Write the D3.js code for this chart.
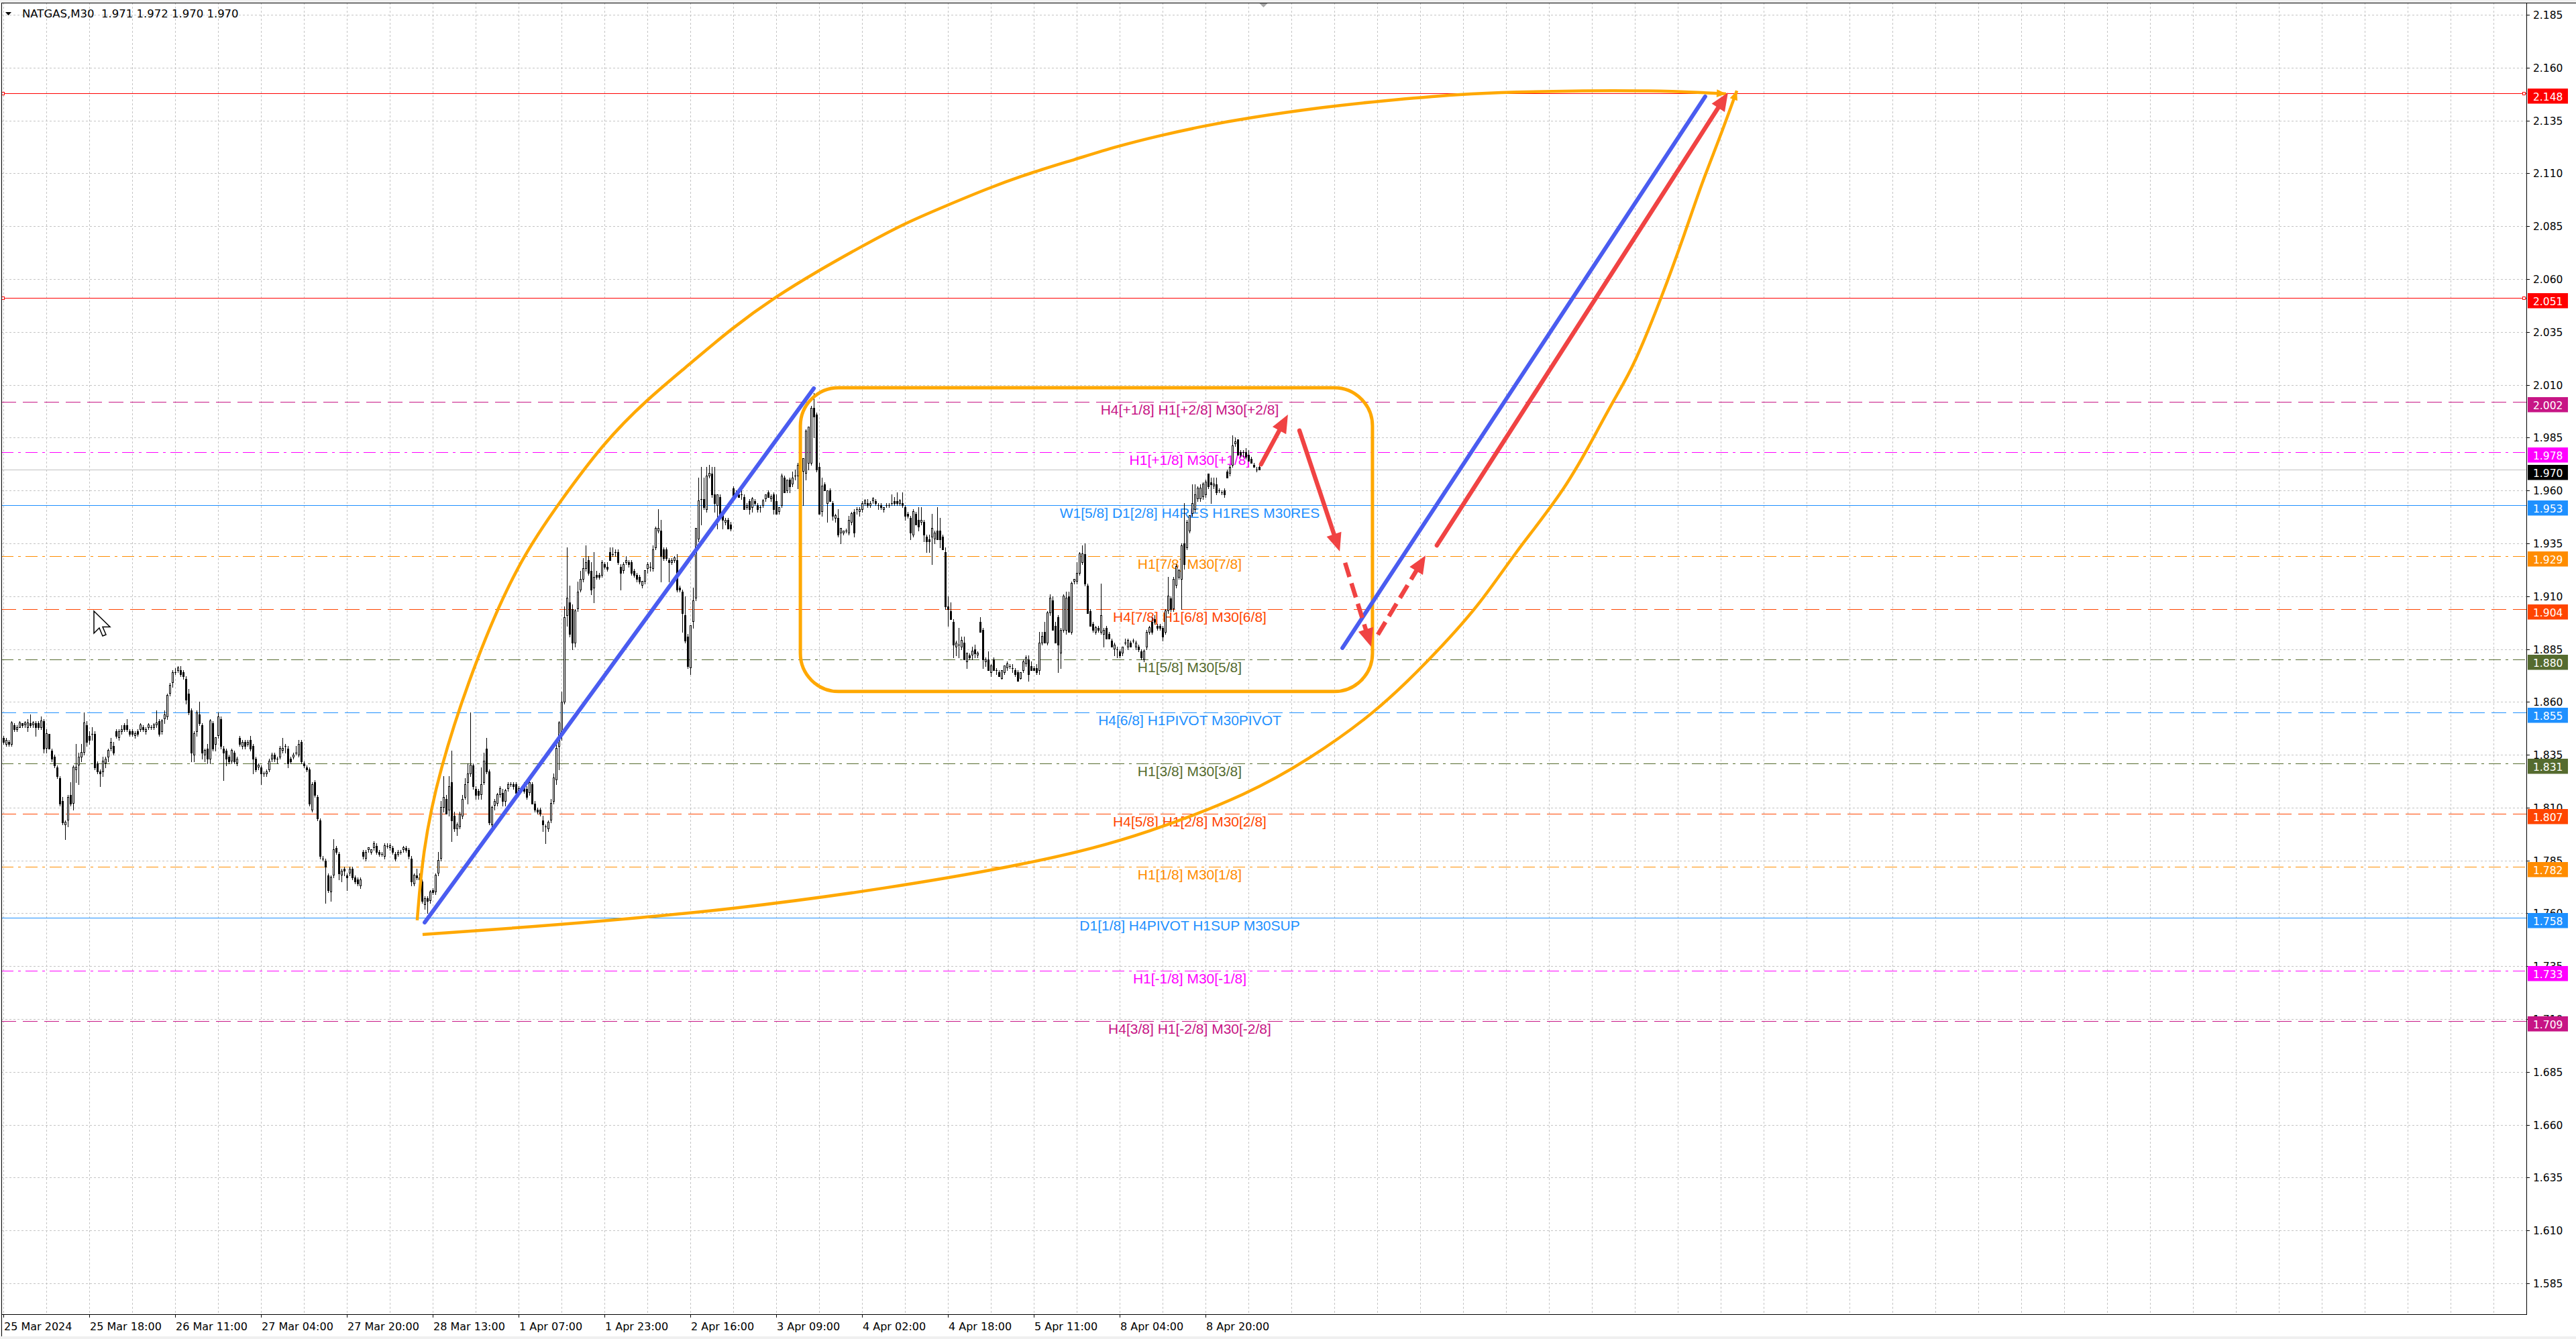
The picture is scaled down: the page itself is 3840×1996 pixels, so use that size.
<!DOCTYPE html>
<html><head><meta charset="utf-8">
<script src="https://cdn.jsdelivr.net/npm/d3@7"></script>
<style>html,body{margin:0;padding:0;background:#f0f0f0;overflow:hidden}svg{display:block}</style>
</head><body>
<svg id="chart" width="3840" height="1996"></svg>
<script>
// ---------------- DATA ----------------
const symbol = "NATGAS", timeframe = "M30";
const opens = [
1.843,1.840,1.841,1.840,1.849,1.847,1.848,1.850,1.849,1.848,
1.850,1.849,1.850,1.850,1.848,1.851,1.838,1.845,1.837,1.834,
1.829,1.824,1.813,1.802,1.804,1.816,1.812,1.828,1.830,1.834,
1.836,1.849,1.844,1.845,1.845,1.831,1.827,1.827,1.831,1.834,
1.838,1.839,1.846,1.843,1.846,1.849,1.849,1.846,1.846,1.844,
1.846,1.847,1.848,1.846,1.848,1.848,1.848,1.849,1.851,1.846,
1.852,1.853,1.864,1.869,1.874,1.875,1.875,1.874,1.871,1.864,
1.856,1.835,1.846,1.854,1.849,1.835,1.838,1.833,1.850,1.840,
1.844,1.852,1.838,1.837,1.834,1.832,1.836,1.831,1.843,1.839,
1.841,1.840,1.842,1.839,1.833,1.829,1.829,1.826,1.826,1.828,
1.833,1.835,1.833,1.834,1.837,1.839,1.838,1.833,1.834,1.836,
1.835,1.841,1.831,1.829,1.828,1.809,1.822,1.815,1.804,1.786,
1.785,1.778,1.770,1.778,1.791,1.788,1.778,1.781,1.778,1.779,
1.781,1.777,1.776,1.773,1.789,1.786,1.790,1.789,1.791,1.792,
1.789,1.788,1.787,1.792,1.791,1.791,1.788,1.788,1.789,1.790,
1.791,1.790,1.786,1.774,1.778,1.777,1.775,1.764,1.767,1.766,
1.771,1.770,1.779,1.786,1.810,1.814,1.809,1.822,1.806,1.800,
1.801,1.806,1.815,1.822,1.826,1.830,1.819,1.818,1.816,1.822,
1.838,1.827,1.802,1.811,1.812,1.816,1.817,1.813,1.819,1.821,
1.821,1.821,1.818,1.819,1.821,1.819,1.817,1.821,1.812,1.809,
1.809,1.804,1.801,1.800,1.804,1.813,1.823,1.839,1.844,1.860,
1.901,1.907,1.904,1.888,1.904,1.913,1.918,1.923,1.927,1.922,
1.914,1.920,1.920,1.920,1.925,1.924,1.931,1.930,1.931,1.931,
1.924,1.922,1.926,1.926,1.926,1.922,1.920,1.919,1.915,1.917,
1.923,1.924,1.923,1.933,1.941,1.941,1.932,1.932,1.927,1.926,
1.927,1.927,1.914,1.912,1.901,1.891,1.876,1.898,1.909,1.937,
1.956,1.956,1.951,1.967,1.968,1.958,1.953,1.957,1.949,1.945,
1.946,1.944,1.961,1.959,1.958,1.958,1.957,1.952,1.955,1.952,
1.955,1.953,1.952,1.953,1.956,1.959,1.956,1.958,1.955,1.950,
1.953,1.966,1.960,1.965,1.963,1.967,1.967,1.972,1.969,1.968,
1.973,1.973,1.999,1.996,1.971,1.950,1.963,1.954,1.960,1.954,
1.947,1.947,1.940,1.940,1.941,1.940,1.945,1.950,1.951,1.950,
1.951,1.954,1.954,1.953,1.955,1.955,1.953,1.953,1.951,1.953,
1.953,1.954,1.955,1.955,1.954,1.954,1.952,1.949,1.947,1.939,
1.949,1.946,1.945,1.945,1.938,1.937,1.938,1.937,1.941,1.941,
1.938,1.931,1.905,1.903,1.898,1.886,1.887,1.886,1.888,1.879,
1.882,1.882,1.885,1.882,1.898,1.894,1.879,1.880,1.874,1.880,
1.875,1.874,1.871,1.874,1.876,1.877,1.876,1.875,1.874,1.871,
1.875,1.878,1.880,1.877,1.876,1.876,1.875,1.888,1.893,1.888,
1.902,1.908,1.896,1.900,1.883,1.894,1.894,1.910,1.893,1.917,
1.917,1.921,1.926,1.930,1.915,1.903,1.897,1.893,1.895,1.893,
1.892,1.895,1.892,1.889,1.885,1.885,1.884,1.883,1.888,1.886,
1.888,1.889,1.886,1.886,1.884,1.880,1.886,1.893,1.898,1.899,
1.896,1.896,1.895,1.893,1.903,1.909,1.904,1.915,1.919,1.918,
1.935,1.933,1.941,1.949,1.951,1.956,1.956,1.957,1.958,1.968,
1.964,1.962,1.963,1.960,1.959,1.960,1.969,1.968,1.972,1.982,
1.984,1.978,1.978,1.978,1.977,1.975,1.972,1.970,1.971];
const highs = [
1.844,1.843,1.842,1.851,1.850,1.849,1.851,1.850,1.851,1.852,
1.854,1.851,1.851,1.851,1.853,1.852,1.847,1.845,1.838,1.835,
1.830,1.825,1.815,1.804,1.816,1.822,1.830,1.840,1.836,1.840,
1.855,1.851,1.846,1.848,1.846,1.832,1.828,1.834,1.834,1.838,
1.843,1.841,1.847,1.847,1.849,1.850,1.852,1.847,1.847,1.846,
1.847,1.850,1.849,1.848,1.850,1.849,1.850,1.856,1.852,1.852,
1.856,1.864,1.869,1.875,1.876,1.877,1.877,1.875,1.872,1.866,
1.857,1.846,1.856,1.860,1.850,1.838,1.840,1.852,1.851,1.843,
1.855,1.853,1.839,1.838,1.835,1.838,1.837,1.834,1.844,1.842,
1.842,1.842,1.844,1.840,1.834,1.831,1.830,1.827,1.828,1.833,
1.836,1.836,1.834,1.839,1.843,1.840,1.839,1.834,1.836,1.839,
1.842,1.842,1.832,1.830,1.829,1.822,1.823,1.816,1.805,1.787,
1.786,1.779,1.778,1.795,1.792,1.789,1.781,1.782,1.779,1.782,
1.782,1.778,1.777,1.777,1.790,1.790,1.791,1.790,1.794,1.793,
1.790,1.789,1.793,1.793,1.793,1.792,1.789,1.790,1.790,1.792,
1.792,1.791,1.787,1.779,1.781,1.779,1.776,1.768,1.768,1.771,
1.772,1.779,1.789,1.813,1.825,1.816,1.825,1.837,1.808,1.803,
1.808,1.816,1.824,1.831,1.855,1.831,1.820,1.819,1.829,1.836,
1.843,1.828,1.811,1.814,1.817,1.820,1.819,1.819,1.822,1.822,
1.822,1.822,1.820,1.820,1.822,1.820,1.823,1.822,1.813,1.810,
1.810,1.806,1.802,1.804,1.814,1.826,1.840,1.851,1.865,1.905,
1.933,1.915,1.906,1.904,1.917,1.922,1.928,1.934,1.929,1.926,
1.931,1.922,1.921,1.927,1.926,1.926,1.933,1.933,1.932,1.932,
1.925,1.926,1.929,1.927,1.927,1.923,1.921,1.920,1.917,1.922,
1.926,1.926,1.934,1.943,1.951,1.946,1.933,1.933,1.928,1.928,
1.929,1.930,1.915,1.913,1.910,1.892,1.896,1.914,1.942,1.966,
1.971,1.966,1.971,1.972,1.971,1.971,1.958,1.958,1.950,1.947,
1.947,1.945,1.962,1.960,1.959,1.960,1.958,1.954,1.956,1.957,
1.956,1.954,1.953,1.956,1.958,1.960,1.958,1.959,1.958,1.952,
1.968,1.967,1.965,1.966,1.969,1.970,1.973,1.974,1.975,1.989,
1.990,2.000,2.006,1.997,1.973,1.966,1.964,1.960,1.961,1.955,
1.949,1.951,1.942,1.941,1.942,1.948,1.950,1.951,1.952,1.952,
1.955,1.956,1.956,1.955,1.957,1.956,1.954,1.954,1.952,1.954,
1.954,1.958,1.957,1.959,1.956,1.959,1.953,1.950,1.948,1.951,
1.950,1.952,1.952,1.946,1.939,1.939,1.949,1.941,1.952,1.947,
1.939,1.933,1.910,1.907,1.899,1.889,1.895,1.891,1.891,1.883,
1.883,1.886,1.887,1.884,1.900,1.895,1.881,1.884,1.878,1.881,
1.876,1.875,1.875,1.877,1.879,1.878,1.878,1.876,1.875,1.874,
1.880,1.882,1.882,1.879,1.877,1.878,1.893,1.893,1.898,1.903,
1.911,1.910,1.898,1.901,1.895,1.911,1.912,1.912,1.917,1.918,
1.926,1.931,1.934,1.935,1.916,1.904,1.898,1.896,1.896,1.916,
1.895,1.896,1.893,1.890,1.888,1.886,1.885,1.886,1.890,1.890,
1.889,1.890,1.889,1.887,1.885,1.885,1.894,1.896,1.900,1.901,
1.897,1.897,1.896,1.904,1.919,1.910,1.919,1.925,1.923,1.935,
1.954,1.946,1.948,1.963,1.963,1.962,1.963,1.964,1.965,1.968,
1.966,1.966,1.966,1.961,1.960,1.961,1.970,1.972,1.986,1.985,
1.984,1.979,1.979,1.980,1.979,1.976,1.973,1.971,1.972];
const lows = [
1.840,1.839,1.839,1.839,1.846,1.846,1.848,1.848,1.848,1.846,
1.848,1.848,1.844,1.847,1.847,1.836,1.836,1.838,1.832,1.829,
1.824,1.811,1.802,1.795,1.801,1.811,1.809,1.822,1.821,1.832,
1.835,1.839,1.840,1.842,1.828,1.826,1.820,1.825,1.829,1.832,
1.837,1.835,1.843,1.842,1.845,1.846,1.846,1.844,1.844,1.843,
1.844,1.846,1.846,1.845,1.847,1.847,1.847,1.848,1.844,1.845,
1.850,1.852,1.863,1.867,1.873,1.874,1.872,1.871,1.859,1.854,
1.832,1.832,1.844,1.849,1.833,1.832,1.831,1.831,1.837,1.837,
1.843,1.838,1.823,1.830,1.831,1.831,1.831,1.830,1.839,1.838,
1.838,1.839,1.837,1.826,1.827,1.828,1.821,1.825,1.825,1.827,
1.832,1.832,1.831,1.833,1.836,1.836,1.829,1.831,1.833,1.835,
1.834,1.831,1.829,1.827,1.811,1.808,1.815,1.804,1.786,1.785,
1.765,1.770,1.766,1.777,1.788,1.776,1.775,1.778,1.771,1.778,
1.776,1.774,1.773,1.772,1.786,1.785,1.789,1.788,1.790,1.788,
1.787,1.787,1.786,1.791,1.790,1.788,1.785,1.787,1.788,1.789,
1.789,1.786,1.773,1.773,1.776,1.775,1.765,1.762,1.760,1.765,
1.769,1.769,1.778,1.785,1.808,1.807,1.806,1.794,1.799,1.797,
1.800,1.805,1.814,1.812,1.825,1.819,1.814,1.814,1.814,1.821,
1.826,1.802,1.800,1.809,1.811,1.815,1.811,1.811,1.818,1.820,
1.819,1.816,1.817,1.818,1.817,1.814,1.816,1.812,1.808,1.807,
1.806,1.799,1.793,1.799,1.803,1.812,1.821,1.828,1.842,1.859,
1.896,1.891,1.885,1.886,1.903,1.912,1.917,1.922,1.920,1.911,
1.907,1.918,1.918,1.919,1.923,1.922,1.927,1.929,1.929,1.925,
1.913,1.921,1.925,1.924,1.920,1.919,1.917,1.916,1.914,1.916,
1.921,1.922,1.922,1.932,1.940,1.917,1.927,1.927,1.917,1.925,
1.926,1.912,1.912,1.893,1.888,1.876,1.873,1.895,1.908,1.936,
1.944,1.951,1.950,1.966,1.957,1.950,1.942,1.948,1.942,1.944,
1.942,1.941,1.957,1.957,1.957,1.956,1.951,1.951,1.949,1.950,
1.953,1.950,1.950,1.952,1.955,1.957,1.955,1.949,1.949,1.949,
1.952,1.959,1.959,1.959,1.962,1.965,1.961,1.968,1.953,1.965,
1.970,1.972,1.985,1.969,1.949,1.948,1.960,1.945,1.955,1.946,
1.945,1.938,1.935,1.939,1.940,1.939,1.944,1.938,1.949,1.948,
1.950,1.953,1.952,1.952,1.954,1.953,1.951,1.951,1.950,1.952,
1.952,1.953,1.953,1.953,1.953,1.952,1.946,1.947,1.937,1.938,
1.944,1.941,1.944,1.936,1.931,1.931,1.925,1.935,1.937,1.933,
1.932,1.904,1.896,1.899,1.881,1.882,1.881,1.885,1.880,1.876,
1.880,1.880,1.881,1.881,1.893,1.876,1.877,1.875,1.872,1.875,
1.873,1.872,1.871,1.873,1.875,1.876,1.874,1.872,1.870,1.871,
1.874,1.877,1.870,1.875,1.875,1.873,1.873,1.887,1.888,1.887,
1.901,1.894,1.888,1.874,1.876,1.893,1.892,1.893,1.892,1.916,
1.916,1.920,1.925,1.915,1.902,1.896,1.893,1.892,1.893,1.892,
1.886,1.890,1.890,1.886,1.882,1.881,1.881,1.882,1.887,1.885,
1.886,1.888,1.885,1.884,1.880,1.879,1.885,1.892,1.892,1.897,
1.894,1.894,1.889,1.892,1.902,1.903,1.903,1.914,1.918,1.904,
1.923,1.932,1.940,1.948,1.950,1.955,1.955,1.956,1.957,1.961,
1.954,1.961,1.958,1.959,1.958,1.957,1.966,1.967,1.971,1.981,
1.977,1.976,1.976,1.975,1.974,1.973,1.971,1.969,1.970];
const closes = [
1.841,1.842,1.840,1.850,1.847,1.848,1.850,1.849,1.850,1.850,
1.849,1.850,1.848,1.848,1.851,1.838,1.845,1.838,1.833,1.830,
1.825,1.812,1.803,1.803,1.815,1.812,1.829,1.829,1.834,1.836,
1.850,1.841,1.842,1.845,1.829,1.827,1.826,1.832,1.833,1.837,
1.841,1.836,1.844,1.846,1.847,1.847,1.847,1.845,1.845,1.845,
1.845,1.849,1.847,1.847,1.849,1.848,1.849,1.850,1.845,1.851,
1.854,1.863,1.868,1.874,1.874,1.876,1.873,1.872,1.861,1.855,
1.836,1.845,1.855,1.850,1.836,1.837,1.833,1.851,1.838,1.843,
1.853,1.839,1.836,1.833,1.832,1.837,1.832,1.833,1.840,1.841,
1.839,1.841,1.838,1.833,1.828,1.830,1.826,1.826,1.827,1.832,
1.835,1.833,1.833,1.838,1.838,1.839,1.831,1.832,1.835,1.836,
1.840,1.832,1.830,1.828,1.812,1.821,1.816,1.805,1.787,1.786,
1.782,1.771,1.777,1.790,1.789,1.779,1.780,1.780,1.777,1.781,
1.777,1.775,1.774,1.776,1.787,1.789,1.791,1.790,1.793,1.789,
1.788,1.788,1.792,1.792,1.792,1.789,1.786,1.789,1.789,1.791,
1.790,1.787,1.775,1.778,1.777,1.776,1.766,1.767,1.766,1.770,
1.770,1.778,1.785,1.810,1.815,1.807,1.820,1.804,1.800,1.802,
1.807,1.814,1.821,1.826,1.830,1.820,1.816,1.816,1.821,1.832,
1.827,1.803,1.810,1.813,1.816,1.819,1.813,1.818,1.821,1.821,
1.820,1.817,1.819,1.819,1.818,1.815,1.822,1.812,1.809,1.808,
1.807,1.802,1.801,1.803,1.812,1.824,1.838,1.850,1.860,1.900,
1.909,1.892,1.888,1.903,1.912,1.918,1.923,1.926,1.921,1.913,
1.919,1.919,1.919,1.926,1.924,1.923,1.927,1.930,1.931,1.926,
1.921,1.925,1.927,1.925,1.921,1.920,1.918,1.917,1.917,1.922,
1.925,1.924,1.932,1.942,1.942,1.929,1.928,1.928,1.926,1.927,
1.928,1.913,1.913,1.902,1.889,1.877,1.896,1.908,1.942,1.955,
1.956,1.952,1.967,1.968,1.958,1.954,1.958,1.948,1.946,1.946,
1.942,1.942,1.957,1.958,1.957,1.958,1.951,1.953,1.951,1.956,
1.954,1.951,1.952,1.955,1.958,1.957,1.957,1.951,1.949,1.952,
1.967,1.959,1.965,1.962,1.966,1.967,1.972,1.970,1.975,1.988,
1.990,1.999,1.995,1.970,1.949,1.962,1.960,1.960,1.955,1.948,
1.948,1.939,1.942,1.941,1.941,1.946,1.949,1.940,1.951,1.951,
1.954,1.955,1.953,1.954,1.956,1.954,1.953,1.952,1.952,1.953,
1.953,1.954,1.954,1.954,1.955,1.953,1.948,1.948,1.940,1.950,
1.944,1.943,1.946,1.939,1.936,1.936,1.942,1.940,1.937,1.937,
1.932,1.905,1.904,1.899,1.887,1.888,1.887,1.889,1.880,1.883,
1.881,1.884,1.883,1.883,1.893,1.880,1.880,1.875,1.877,1.875,
1.875,1.872,1.875,1.877,1.878,1.877,1.876,1.873,1.870,1.874,
1.879,1.881,1.873,1.875,1.875,1.874,1.888,1.891,1.888,1.902,
1.909,1.894,1.888,1.887,1.894,1.910,1.909,1.893,1.916,1.918,
1.921,1.930,1.930,1.916,1.902,1.896,1.894,1.895,1.894,1.901,
1.894,1.890,1.890,1.886,1.887,1.885,1.882,1.886,1.888,1.889,
1.886,1.889,1.888,1.885,1.881,1.884,1.893,1.895,1.893,1.898,
1.895,1.895,1.891,1.903,1.910,1.904,1.918,1.924,1.922,1.934,
1.925,1.945,1.948,1.954,1.958,1.961,1.961,1.963,1.964,1.962,
1.963,1.963,1.959,1.960,1.959,1.958,1.966,1.971,1.981,1.983,
1.977,1.977,1.978,1.976,1.974,1.973,1.971,1.970,1.970];

const timeLabels = ["25 Mar 2024","25 Mar 18:00","26 Mar 11:00","27 Mar 04:00","27 Mar 20:00",
  "28 Mar 13:00","1 Apr 07:00","1 Apr 23:00","2 Apr 16:00","3 Apr 09:00","4 Apr 02:00",
  "4 Apr 18:00","5 Apr 11:00","8 Apr 04:00","8 Apr 20:00"];
const barsPerTimeLabel = 32;
const barsPerGrid = 16;

const priceTicks = [2.185,2.160,2.135,2.110,2.085,2.060,2.035,2.010,1.985,1.960,1.935,1.910,
  1.885,1.860,1.835,1.810,1.785,1.760,1.735,1.710,1.685,1.660,1.635,1.610,1.585];

// Murrey-math style levels
const levelPrices = [2.148,2.051,2.002,1.978,1.970,1.953,1.929,1.904,1.880,1.855,1.831,1.807,1.782,1.758,1.733,1.709];
const levelColors = ["#FF0000","#FF0000","#C71585","#FF00FF","#C0C0C0","#1E90FF","#FF8C00","#FF4500",
  "#556B2F","#1E90FF","#556B2F","#FF4500","#FF8C00","#1E90FF","#FF00FF","#C71585"];
const levelBoxColors = ["#FF0000","#FF0000","#C71585","#FF00FF","#000000","#1E90FF","#FF8C00","#FF4500",
  "#556B2F","#1E90FF","#556B2F","#FF4500","#FF8C00","#1E90FF","#FF00FF","#C71585"];
const levelStyles = ["solid","solid","dash","dashdot","solid","solid","dashdot","dash",
  "dashdot","dash","dashdot","dash","dashdot","solid","dashdot","dash"];
const levelTexts = ["","","H4[+1/8] H1[+2/8] M30[+2/8]","H1[+1/8] M30[+1/8]","",
  "W1[5/8] D1[2/8] H4RES H1RES M30RES","H1[7/8] M30[7/8]","H4[7/8] H1[6/8] M30[6/8]",
  "H1[5/8] M30[5/8]","H4[6/8] H1PIVOT M30PIVOT","H1[3/8] M30[3/8]","H4[5/8] H1[2/8] M30[2/8]",
  "H1[1/8] M30[1/8]","D1[1/8] H4PIVOT H1SUP M30SUP","H1[-1/8] M30[-1/8]","H4[3/8] H1[-2/8] M30[-2/8]"];
const levelMarked = [true,true,false,false,false,false,false,false,false,false,false,false,false,false,false,false];
const levelTextBar = 442;

// Drawn analysis objects, anchored in (bar index, price)
const blueLines = [[[156.9,1.7557],[301.9,2.0083]], [[498.9,1.8855],[634.1,2.1463]]];
const redArrows = [
  {from:[468.6,1.9724], to:[478.6,1.9959], dashed:false},
  {from:[482.9,1.9883], to:[497.9,1.9312], dashed:false},
  {from:[499.9,1.9258], to:[509.6,1.8861], dashed:true},
  {from:[512.1,1.8918], to:[529.9,1.9293], dashed:true},
  {from:[534.1,1.9340], to:[642.6,2.1482], dashed:false}];
const rangeBox = {bar0:296.9, bar1:510.1, top:2.0086, bottom:1.8649};
const upperArc = [[154.1,1.7567],[156.1,1.7884],[161.9,1.8265],[176.1,1.8810],[191.9,1.9264],[206.9,1.9540],
  [223.6,1.9826],[239.6,2.0029],[255.6,2.0197],[271.4,2.0368],[287.4,2.0514],[303.4,2.0638],[319.4,2.0752],
  [335.1,2.0860],[351.1,2.0946],[367.1,2.1031],[383.1,2.1104],[399.1,2.1165],[414.9,2.1228],[430.9,2.1279],
  [446.9,2.1323],[462.9,2.1361],[492.9,2.1415],[511.9,2.1441],[543.9,2.1476],[562.9,2.1485],[588.4,2.1491],
  [613.9,2.1491],[633.1,2.1482],[641.9,2.1476]];
const lowerArc = [[156.1,1.7500],[273.6,1.7605],[386.1,1.7833],[427.9,1.7985],[464.1,1.8166],[486.1,1.8325],
  [511.1,1.8547],[531.1,1.8795],[550.1,1.9058],[562.9,1.9302],[582.1,1.9604],[594.9,1.9908],[601.1,2.0051],
  [607.6,2.0191],[617.9,2.0514],[626.6,2.0819],[633.1,2.1063],[639.4,2.1263],[645.9,2.1491]];

// ---------------- LAYOUT ----------------
const W = 3840, H = 1996;
const plotLeft = 2, plotTop = 4, plotRight = 3766, plotBottom = 1959;
const x = d3.scaleLinear().domain([0, 940]).range([5.5, 5.5 + 940 * 4]);
const y = d3.scaleLinear().domain([1.585, 2.185]).range([1913, 22]);
const yc = p => Math.round(y(p)) + 0.5;

const svg = d3.select("#chart");
svg.append("rect").attr("width", W).attr("height", H).attr("fill", "#f0f0f0");
svg.append("rect").attr("x", 2).attr("y", 4).attr("width", W - 2).attr("height", 1988).attr("fill", "#ffffff");

const defs = svg.append("defs");
defs.append("clipPath").attr("id", "plotClip").append("rect")
  .attr("x", plotLeft).attr("y", plotTop).attr("width", plotRight - plotLeft).attr("height", plotBottom - plotTop);

const plot = svg.append("g").attr("clip-path", "url(#plotClip)");

// grid
const grid = plot.append("g").attr("stroke", "#c4c4c4").attr("stroke-width", 1).attr("stroke-dasharray", "3,3")
  .attr("shape-rendering", "crispEdges");
grid.selectAll("line.h").data(priceTicks).join("line").attr("class", "h")
  .attr("x1", plotLeft).attr("x2", plotRight).attr("y1", d => yc(d)).attr("y2", d => yc(d));
const gridBars = d3.range(0, 941, barsPerGrid).filter(i => x(i) < plotRight);
grid.selectAll("line.v").data(gridBars).join("line").attr("class", "v")
  .attr("x1", d => x(d)).attr("x2", d => x(d)).attr("y1", plotTop).attr("y2", plotBottom);

// level lines
const dashFor = s => s === "dash" ? "22,10" : (s === "dashdot" ? "18,7,4,7" : null);
const lv = plot.append("g").attr("shape-rendering", "crispEdges");
levelPrices.forEach((p, i) => {
  lv.append("line").attr("x1", plotLeft).attr("x2", plotRight).attr("y1", yc(p)).attr("y2", yc(p))
    .attr("stroke", levelColors[i]).attr("stroke-width", 1).attr("stroke-dasharray", dashFor(levelStyles[i]));
  if (levelMarked[i]) {
    [plotLeft + 0.5, plotRight - 5.5].forEach(sx => {
      lv.append("rect").attr("x", sx).attr("y", yc(p) - 2).attr("width", 4).attr("height", 4)
        .attr("fill", "#fff").attr("stroke", levelColors[i]).attr("stroke-width", 1);
    });
  }
});

// level texts
plot.append("g").selectAll("text").data(levelPrices.map((p, i) => ({p, t: levelTexts[i], c: levelColors[i]})).filter(d => d.t))
  .join("text")
  .attr("x", x(levelTextBar)).attr("y", d => y(d.p) + 19)
  .attr("text-anchor", "middle").attr("fill", d => d.c)
  .attr("font-family", "'Liberation Sans', Arial, sans-serif").attr("font-size", 21)
  .text(d => d.t);

// candles
const bars = opens.map((o, i) => ({i, o, h: highs[i], l: lows[i], c: closes[i]}));
const cg = plot.append("g").attr("shape-rendering", "crispEdges");
cg.selectAll("line.wick").data(bars).join("line").attr("class", "wick")
  .attr("x1", d => x(d.i)).attr("x2", d => x(d.i))
  .attr("y1", d => y(Math.max(d.h, d.o, d.c))).attr("y2", d => y(Math.min(d.l, d.o, d.c)) + 1)
  .attr("stroke", "#000").attr("stroke-width", 1);
bars.forEach(d => {
  const cx = x(d.i);
  if (d.c > d.o) {
    const t = y(d.c), b = y(d.o);
    cg.append("rect").attr("x", cx - 1).attr("y", t).attr("width", 2).attr("height", Math.max(b - t, 1))
      .attr("fill", "#fff").attr("stroke", "#000").attr("stroke-width", 1);
  } else if (d.c < d.o) {
    const t = y(d.o), b = y(d.c);
    cg.append("rect").attr("x", cx - 1.5).attr("y", t).attr("width", 3).attr("height", Math.max(b - t + 1, 2))
      .attr("fill", "#000");
  } else {
    cg.append("line").attr("x1", cx - 1.5).attr("x2", cx + 1.5).attr("y1", yc(d.c)).attr("y2", yc(d.c))
      .attr("stroke", "#000").attr("stroke-width", 1);
  }
});

// analysis drawings
const ann = plot.append("g");
const ORANGE = "#FFA800", RED = "#F04343", BLUE = "#4A5CF0";
const P = pt => [x(pt[0]), y(pt[1])];

ann.append("rect")
  .attr("x", x(rangeBox.bar0)).attr("y", y(rangeBox.top))
  .attr("width", x(rangeBox.bar1) - x(rangeBox.bar0)).attr("height", y(rangeBox.bottom) - y(rangeBox.top))
  .attr("rx", 57).attr("ry", 57).attr("fill", "none").attr("stroke", ORANGE).attr("stroke-width", 5);

const arcLine = d3.line().x(d => x(d[0])).y(d => y(d[1])).curve(d3.curveBasis);
function headAt(tip, prev, len, half, color) {
  const dx = tip[0] - prev[0], dy = tip[1] - prev[1], L = Math.hypot(dx, dy);
  const ux = dx / L, uy = dy / L, bx = tip[0] - ux * len, by = tip[1] - uy * len;
  ann.append("path").attr("d", `M${tip[0]},${tip[1]}L${bx - uy * half},${by + ux * half}L${bx + uy * half},${by - ux * half}Z`)
    .attr("fill", color);
}
[upperArc, lowerArc].forEach(arc => {
  ann.append("path").attr("d", arcLine(arc)).attr("fill", "none").attr("stroke", ORANGE)
    .attr("stroke-width", 4.5).attr("stroke-linejoin", "round");
  headAt(P(arc[arc.length - 1]), P(arc[arc.length - 2]), 14, 6, ORANGE);
});

blueLines.forEach(l => {
  ann.append("line").attr("x1", x(l[0][0])).attr("y1", y(l[0][1])).attr("x2", x(l[1][0])).attr("y2", y(l[1][1]))
    .attr("stroke", BLUE).attr("stroke-width", 6).attr("stroke-linecap", "round");
});

redArrows.forEach(a => {
  const s = P(a.from), t = P(a.to);
  const dx = t[0] - s[0], dy = t[1] - s[1], L = Math.hypot(dx, dy);
  const e = [t[0] - dx / L * 20, t[1] - dy / L * 20];
  ann.append("line").attr("x1", s[0]).attr("y1", s[1]).attr("x2", e[0]).attr("y2", e[1])
    .attr("stroke", RED).attr("stroke-width", 6.5)
    .attr("stroke-linecap", a.dashed ? "butt" : "round")
    .attr("stroke-dasharray", a.dashed ? "22,10" : null);
  headAt(t, s, 27, 11.5, RED);
});

// top chart-shift marker
const shiftX = x(469.5);
svg.append("path").attr("d", `M${shiftX - 7},${plotTop}L${shiftX + 7},${plotTop}L${shiftX},${plotTop + 7}Z`).attr("fill", "#a8a8a8");

// mouse cursor
const cur = [[0,0],[0,33],[8,25],[13,37],[18,35],[13,23.5],[24,23.5]].map(p => [140 + p[0], 911 + p[1]]);
svg.append("path").attr("d", "M" + cur.map(p => p.join(",")).join("L") + "Z")
  .attr("fill", "#fff").attr("stroke", "#000").attr("stroke-width", 1.5);

// frame & axes
const fr = svg.append("g").attr("stroke", "#000").attr("stroke-width", 1).attr("shape-rendering", "crispEdges");
fr.append("line").attr("x1", plotLeft).attr("x2", W).attr("y1", plotTop + 0.5).attr("y2", plotTop + 0.5);
fr.append("line").attr("x1", plotLeft + 0.5).attr("x2", plotLeft + 0.5).attr("y1", plotTop).attr("y2", 1992);
fr.append("line").attr("x1", plotRight + 0.5).attr("x2", plotRight + 0.5).attr("y1", plotTop).attr("y2", plotBottom + 1);
fr.append("line").attr("x1", plotLeft).attr("x2", plotRight + 1).attr("y1", plotBottom + 0.5).attr("y2", plotBottom + 0.5);

const axFont = "'DejaVu Sans', Tahoma, Verdana, sans-serif";
// price axis ticks & labels
const pa = svg.append("g");
pa.selectAll("line").data(priceTicks).join("line")
  .attr("x1", plotRight).attr("x2", plotRight + 5).attr("y1", d => yc(d)).attr("y2", d => yc(d))
  .attr("stroke", "#000").attr("shape-rendering", "crispEdges");
pa.selectAll("text").data(priceTicks).join("text")
  .attr("x", 3776).attr("y", d => y(d) + 6).attr("font-family", axFont).attr("font-size", 15.5).attr("fill", "#000")
  .text(d => d.toFixed(3));

// level price boxes
const lb = svg.append("g");
levelPrices.forEach((p, i) => {
  lb.append("rect").attr("x", 3768).attr("y", Math.round(y(p)) - 7).attr("width", 60).attr("height", 22.5)
    .attr("fill", levelBoxColors[i]);
  lb.append("text").attr("x", 3776).attr("y", Math.round(y(p)) + 11).attr("font-family", axFont)
    .attr("font-size", 15.5).attr("fill", "#fff").text(p.toFixed(3));
});

// time axis
const ta = svg.append("g");
const labelBars = timeLabels.map((t, k) => ({t, i: k * barsPerTimeLabel}));
ta.selectAll("line").data(labelBars).join("line")
  .attr("x1", d => x(d.i)).attr("x2", d => x(d.i)).attr("y1", plotBottom).attr("y2", plotBottom + 5)
  .attr("stroke", "#000").attr("shape-rendering", "crispEdges");
ta.selectAll("text").data(labelBars).join("text")
  .attr("x", d => x(d.i) + 0.5).attr("y", 1983).attr("font-family", axFont).attr("font-size", 16).attr("fill", "#000")
  .text(d => d.t);

// title
const last = bars[bars.length - 1];
svg.append("path").attr("d", "M8,18L17,18L12.5,23Z").attr("fill", "#000");
svg.append("text").attr("x", 33).attr("y", 26).attr("font-family", axFont).attr("font-size", 16.5)
  .attr("fill", "#000").style("white-space", "pre")
  .text(`${symbol},${timeframe}  ${last.o.toFixed(3)} ${last.h.toFixed(3)} ${last.l.toFixed(3)} ${last.c.toFixed(3)}`);
</script>
</body></html>
